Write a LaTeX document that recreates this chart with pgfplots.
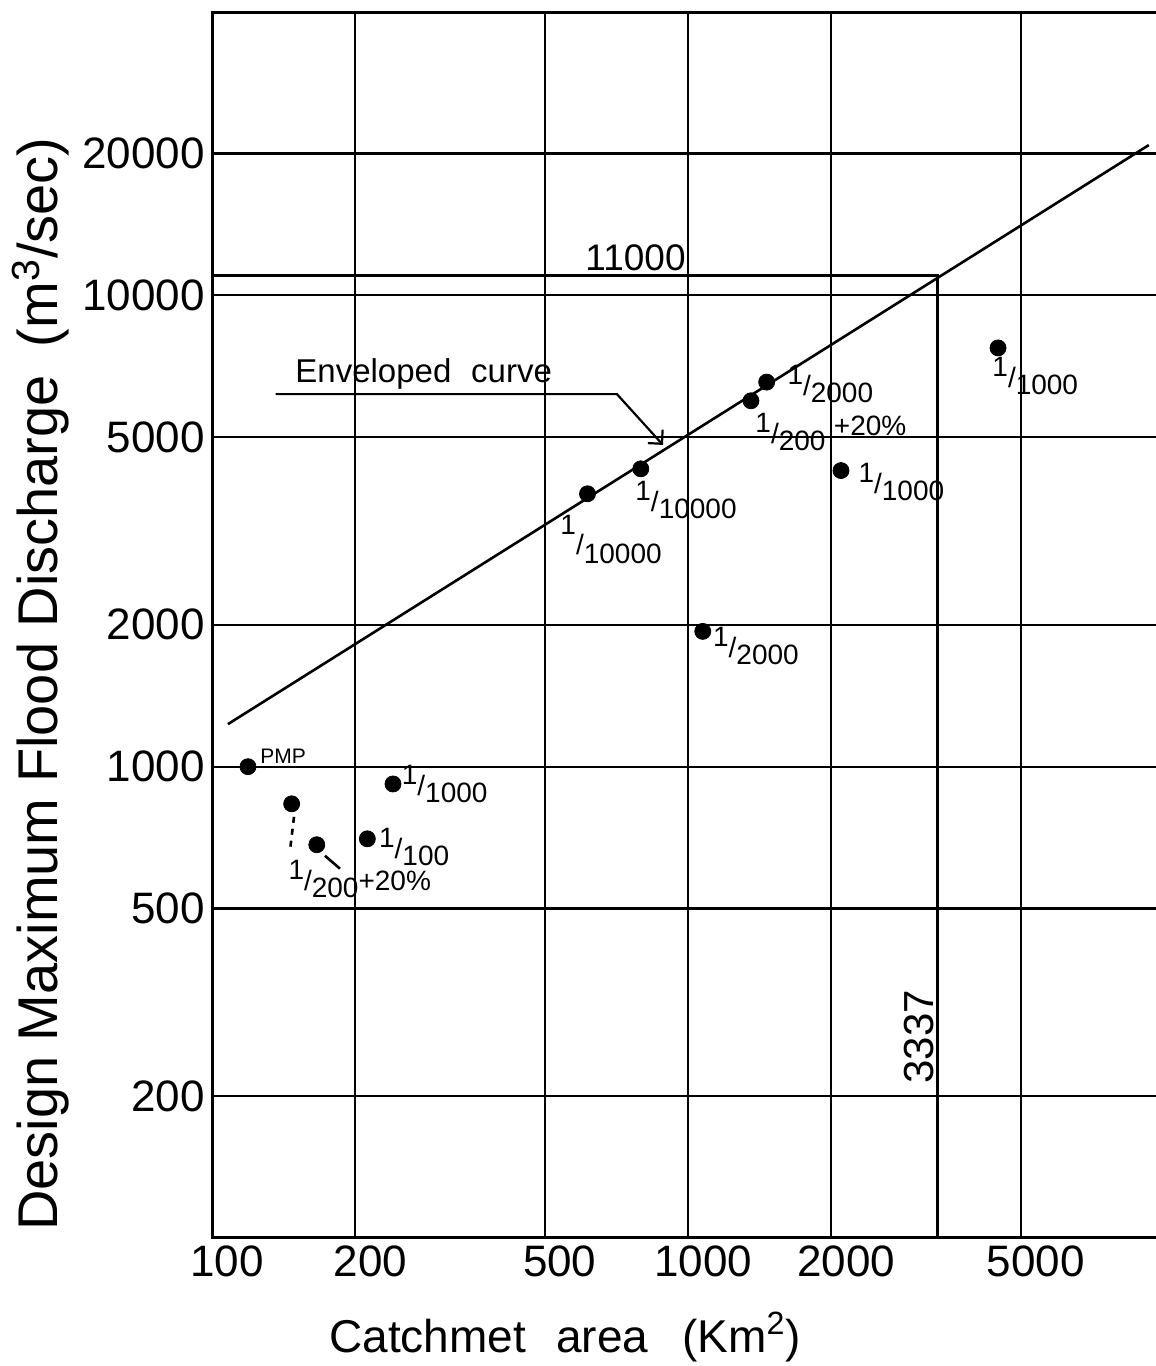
\documentclass[border=0pt]{standalone}
\usepackage{pgfplots}
\pgfplotsset{compat=1.18}
\usepackage{fontspec}
\setmainfont{Liberation Sans}
\usetikzlibrary{arrows.meta}
\newcommand{\fr}[2]{\raisebox{0.4em}{#1}/\raisebox{-0.25em}{#2}}
\begin{document}
\begin{tikzpicture}
\begin{axis}[
  at={(106pt,64pt)}, anchor=south west,
  scale only axis, width=472pt, height=612.65pt,
  xmode=log, ymode=log,
  xmin=100, xmax=9620, ymin=100, ymax=39800,
  xtick={100,200,500,1000,2000,5000},
  xticklabels={100,200,500,1000,2000,5000},
  ytick={200,500,1000,2000,5000,10000,20000},
  yticklabels={200,500,1000,2000,5000,10000,20000},
  grid=major,
  major grid style={black, line width=1.1pt},
  major tick length=0pt, minor tick length=0pt,
  axis line style={draw=none},
  /pgf/number format/assume math mode=true,
  tick label style={font=\fontsize{22}{22}\selectfont, inner sep=1pt},
  xticklabel style={xshift=7.5pt, yshift=-2.5pt},
  yticklabel style={xshift=-2.5pt},
  xlabel={Catchmet\hspace{15pt}area\hspace{17pt}(Km\textsuperscript{2})},
  ylabel={Design Maximum Flood Discharge\hspace{0.5em}(m\textsuperscript{3}/sec)},
  xlabel style={font=\fontsize{23}{23}\selectfont, at={(axis description cs:0.374,-0.081)}, anchor=center},
  ylabel style={font=\fontsize{28}{28}\selectfont, at={(axis description cs:-0.182,0.452)}, anchor=center},
  clip=false,
]
% frame (right side cropped in the original)
\draw[line width=1.5pt] (rel axis cs:1,1) -- (rel axis cs:0,1) -- (rel axis cs:0,0) -- (rel axis cs:1,0);
% 11000 / 3337 construction line
\addplot[black, line width=1.6pt] coordinates {(100,11000) (3337,11000) (3337,100)};
% enveloped curve
\addplot[black, line width=1.3pt] coordinates {(108,1231) (9292,20840)};
% leader for label
\addplot[black, line width=1.1pt, -{Straight Barb[length=5pt]}] coordinates {(136,6173) (709,6173) (886,4816)};
% pointer lines
\addplot[black, line width=1.3pt] coordinates {(172.7,647) (185.7,607.6)};
\addplot[black, line width=1.3pt, dashed] coordinates {(148.7,782.7) (145.8,663)};
% data points
\addplot[only marks, mark=*, mark size=4pt, black] table {
x y
119 1000
147 834
166 683
212 703
240 919
615 3793
796 4285
1074 1937
1356 5975
1463 6546
2096 4249
4480 7737
};
% texts
\node[anchor=south east, font=\fontsize{18.5}{18.5}\selectfont, inner sep=1pt] at (axis cs:1000,11150) {11000};
\node[anchor=south west, font=\fontsize{16.5}{16.5}\selectfont, inner sep=1pt] at (axis cs:148,6250) {Enveloped\hspace{0.6em}curve};
\node[rotate=90, anchor=south, font=\fontsize{21}{21}\selectfont, inner sep=1.5pt] at (axis cs:3337,267) {3337};
\node[font=\fontsize{10.5}{10.5}\selectfont] at (axis cs:141,1053) {PMP};
\begin{scope}[every node/.style={font=\fontsize{14}{14}\selectfont, anchor=west, inner sep=0pt}]
\node at (axis cs:250,918) {\fr{1}{1000}};
\node at (axis cs:224,676) {\fr{1}{100}};
\node at (axis cs:144.5,578) {\fr{1}{200}+20\%};
\node at (axis cs:538.5,3032) {\raisebox{0.7em}{1}/\raisebox{-0.35em}{10000}};
\node at (axis cs:774,3685) {\fr{1}{10000}};
\node at (axis cs:1127,1800) {\fr{1}{2000}};
\node at (axis cs:1383,5131) {\fr{1}{200}\hspace{0.3em}\raisebox{0.3em}{+20\%}};
\node at (axis cs:1615,6482) {\fr{1}{2000}};
\node at (axis cs:2277,4022) {\fr{1}{1000}};
\node at (axis cs:4352,6740) {\fr{1}{1000}};
\end{scope}
\end{axis}
\pgfresetboundingbox
\path (0,0) rectangle (578pt,683pt);
\end{tikzpicture}
\end{document}
